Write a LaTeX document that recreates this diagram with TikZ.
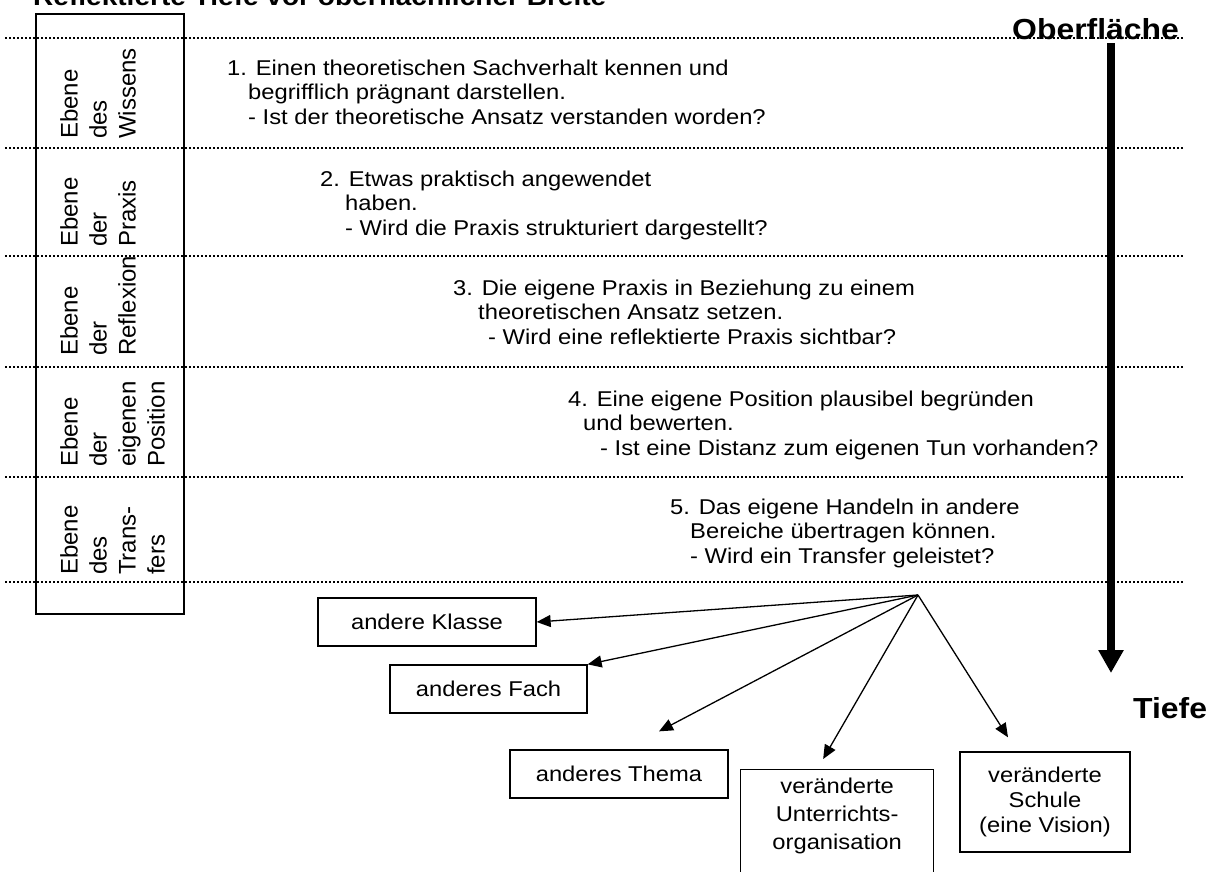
\documentclass[tikz,border=0pt]{standalone}
\usepackage{fontspec}
\setmainfont{Liberation Sans}
\newfontfamily\bodyf[FakeStretch=1.11]{Liberation Sans}
\newfontfamily\headf[FakeStretch=1.1]{Liberation Sans Bold}
\usetikzlibrary{arrows.meta}
\begin{document}
\begin{tikzpicture}[x=1pt,y=-1pt,
  dotline/.style={line width=1.6pt, dash pattern=on 1.6pt off 2.4pt},
  body/.style={font=\bodyf\fontsize{21.4}{24.5}\selectfont, align=left, inner sep=0pt, anchor=base west},
  vlab/.style={font=\fontsize{24}{29}\selectfont, align=left, inner sep=0pt, rotate=90, anchor=north west},
  head/.style={font=\headf\fontsize{29}{34}\selectfont, inner sep=0pt, anchor=base west},
  bbox/.style={draw, line width=1.3pt, font=\bodyf\fontsize{21.4}{25}\selectfont, align=center, inner sep=0pt},
  btext/.style={font=\bodyf\fontsize{21.4}{28}\selectfont, align=center, inner sep=0pt},
  tarrow/.style={line width=1.3pt, -{Triangle[length=14pt,width=12pt]}},
  bigarrow/.style={line width=8pt, -{Triangle[length=23pt,width=24pt]}}]
\useasboundingbox (0,0) rectangle (1210,871);
\clip (0,0) rectangle (1210,871);

% title (cut at the top edge)
\node[head, font=\headf\fontsize{25.5}{30}\selectfont] (title) at (33,5) {Reflektierte Tiefe vor oberflächlicher Breite};

% dotted separators
\foreach \yy in {38,148,256,367,477,582} {
  \draw[dotline] (5,\yy) -- (1183,\yy);
}

% level box
\node[draw, line width=1.5pt, minimum width=148pt, minimum height=600pt, inner sep=0pt, anchor=north west] (levels) at (35,13) {};

\node[vlab] (l1) at (60,139) {Ebene\\des\\Wissens};
\node[vlab] (l2) at (60,247) {Ebene\\der\\Praxis};
\node[vlab] (l3) at (60,356) {Ebene\\der\\Reflexion};
\node[vlab] (l4) at (60,467) {Ebene\\der\\eigenen\\Position};
\node[vlab] (l5) at (60,575) {Ebene\\des\\Trans-\\fers};

% statements (anchor = baseline of the last line)
\node[body] (s1) at (227,124) {1. Einen theoretischen Sachverhalt kennen und\\\hspace*{21pt}begrifflich prägnant darstellen.\\\hspace*{21pt}- Ist der theoretische Ansatz verstanden worden?};
\node[body] (s2) at (320,235) {2. Etwas praktisch angewendet\\\hspace*{25pt}haben.\\\hspace*{25pt}- Wird die Praxis strukturiert dargestellt?};
\node[body] (s3) at (453,344) {3. Die eigene Praxis in Beziehung zu einem\\\hspace*{25pt}theoretischen Ansatz setzen.\\\hspace*{35pt}- Wird eine reflektierte Praxis sichtbar?};
\node[body] (s4) at (568,455) {4. Eine eigene Position plausibel begründen\\\hspace*{15pt}und bewerten.\\\hspace*{32pt}- Ist eine Distanz zum eigenen Tun vorhanden?};
\node[body] (s5) at (670,563) {5. Das eigene Handeln in andere\\\hspace*{20pt}Bereiche übertragen können.\\\hspace*{20pt}- Wird ein Transfer geleistet?};

% depth arrow
\coordinate (top) at (1111,43);
\coordinate (bottom) at (1111,673);
\draw[bigarrow] (top) -- (bottom);
\node[head] (ober) at (1012,39) {Oberfläche};
\node[head] (tiefe) at (1133,718) {Tiefe};

% transfer targets
\node[bbox, minimum width=218pt, minimum height=48pt] (k) at (427,622) {andere Klasse};
\node[bbox, minimum width=197pt, minimum height=48pt] (f) at (488.5,689) {anderes Fach};
\node[bbox, minimum width=218pt, minimum height=48pt] (t) at (619,774) {anderes Thema};
\node[draw, line width=1.3pt, minimum width=193pt, minimum height=115pt, inner sep=0pt, anchor=north west] (o) at (740,769) {};
\node[btext, anchor=north] (otext) at ([yshift=-9pt]o.north) {veränderte\\Unterrichts-\\organisation};
\node[bbox, minimum width=170pt, minimum height=100pt] (s) at (1045,802) {veränderte\\Schule\\(eine Vision)};

\coordinate (hub) at (918,595);
\draw[tarrow] (hub) -- (k.east);
\draw[tarrow] (hub) -- (f.north east);
\draw[tarrow] (hub) -- ([xshift=40pt,yshift=18pt]t.north);
\draw[tarrow] (hub) -- ([xshift=-14pt,yshift=10pt]o.north);
\draw[tarrow] (hub) -- ([xshift=-37pt,yshift=14pt]s.north);
\end{tikzpicture}
\end{document}
